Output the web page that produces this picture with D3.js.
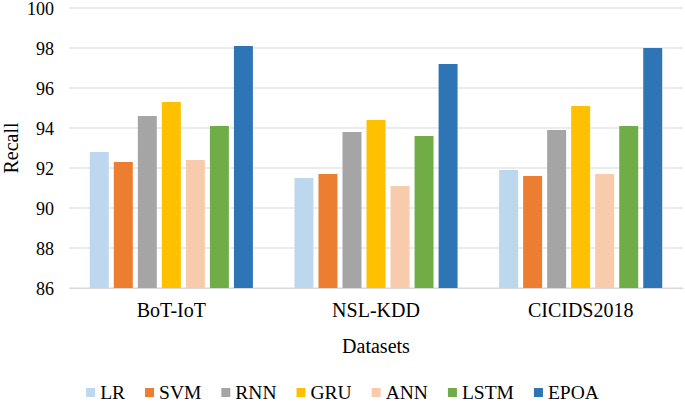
<!DOCTYPE html>
<html>
<head>
<meta charset="utf-8">
<script src="https://cdn.jsdelivr.net/npm/d3@7"></script>
<style>
  html, body { margin: 0; padding: 0; background: #fff; }
  svg { display: block; }
</style>
</head>
<body>
<svg id="chart" width="685" height="403" font-family="Liberation Serif"></svg>
<script>
const categories = ["BoT-IoT", "NSL-KDD", "CICIDS2018"];
const seriesNames = ["LR", "SVM", "RNN", "GRU", "ANN", "LSTM", "EPOA"];
const seriesColors = ["#BDD7EE", "#ED7D31", "#A5A5A5", "#FFC000", "#F8CBAD", "#70AD47", "#2E75B6"];
const LR   = [92.8, 91.5, 91.9];
const SVM  = [92.3, 91.7, 91.6];
const RNN  = [94.6, 93.8, 93.9];
const GRU  = [95.3, 94.4, 95.1];
const ANN  = [92.4, 91.1, 91.7];
const LSTM = [94.1, 93.6, 94.1];
const EPOA = [98.1, 97.2, 98.0];
const yTicks = [86, 88, 90, 92, 94, 96, 98, 100];
const yLabel = "Recall";
const xLabel = "Datasets";

const seriesValues = [LR, SVM, RNN, GRU, ANN, LSTM, EPOA];
const FONT = "Liberation Serif";

const svg = d3.select("#chart");
const W = 685, H = 403;
const plotL = 69, plotR = 683, plotT = 8, plotB = 288;

const x0 = d3.scaleBand().domain(categories).range([plotL, plotR]).padding(0);
const bw = x0.bandwidth();
const groupW = bw * 0.797;
const x1 = d3.scaleBand().domain(seriesNames)
  .range([bw / 2 - groupW / 2, bw / 2 + groupW / 2])
  .paddingInner(0.21).paddingOuter(0);
const y = d3.scaleLinear().domain([86, 100]).range([plotB, plotT]);

// gridlines
svg.append("g").selectAll("line").data(yTicks).join("line")
  .attr("x1", plotL).attr("x2", plotR)
  .attr("y1", d => y(d)).attr("y2", d => y(d))
  .attr("stroke", "#d9d9d9").attr("stroke-width", 1.2);

// y axis labels
const yAxis = d3.axisLeft(y).tickValues(yTicks).tickSize(0).tickPadding(15).tickFormat(d3.format("d"));
const gy = svg.append("g").attr("transform", `translate(${plotL},0)`).call(yAxis)
  .attr("font-family", FONT).attr("font-size", 18);
gy.select(".domain").remove();
gy.selectAll("text").attr("font-family", FONT).attr("font-size", 18).attr("fill", "#000").attr("dy", "0.34em");

// bars
const data = [];
categories.forEach((c, ci) => {
  seriesNames.forEach((s, si) => {
    data.push({ cat: c, ser: s, val: seriesValues[si][ci], color: seriesColors[si] });
  });
});
svg.append("g").selectAll("rect").data(data).join("rect")
  .attr("x", d => x0(d.cat) + x1(d.ser))
  .attr("width", x1.bandwidth())
  .attr("y", d => y(d.val))
  .attr("height", d => y(86) - y(d.val))
  .attr("fill", d => d.color);

// x axis
const xAxis = d3.axisBottom(x0).tickSize(0).tickPadding(15);
const gx = svg.append("g").attr("transform", `translate(0,${plotB})`).call(xAxis)
  .attr("font-family", FONT).attr("font-size", 20);
gx.select(".domain").attr("stroke", "#d9d9d9").attr("stroke-width", 1.2);
gx.selectAll("text").attr("font-family", FONT).attr("font-size", 20).attr("fill", "#000");

// axis titles
svg.append("text").attr("x", (plotL + plotR) / 2).attr("y", 353)
  .attr("text-anchor", "middle").attr("font-family", FONT).attr("font-size", 20).text(xLabel);
svg.append("text").attr("transform", `translate(18,${(plotT + plotB) / 2}) rotate(-90)`)
  .attr("text-anchor", "middle").attr("font-family", FONT).attr("font-size", 20).text(yLabel);

// legend
const legend = svg.append("g");
const sq = 9, gapSq = 5, itemGap = 20;
const items = legend.selectAll("g").data(seriesNames).join("g");
items.append("rect").attr("width", sq).attr("height", sq).attr("y", -sq - 2)
  .attr("fill", (d, i) => seriesColors[i]);
items.append("text").attr("x", sq + gapSq).attr("y", 0)
  .attr("font-family", FONT).attr("font-size", 19.5).attr("fill", "#000").text(d => d);
const widths = [];
items.each(function () {
  const tw = d3.select(this).select("text").node().getComputedTextLength();
  widths.push(sq + gapSq + tw);
});
const total = d3.sum(widths) + itemGap * (widths.length - 1);
let startX = W / 2 - total / 2;
items.attr("transform", (d, i) => {
  const t = `translate(${startX},399)`;
  startX += widths[i] + itemGap;
  return t;
});
</script>
</body>
</html>
